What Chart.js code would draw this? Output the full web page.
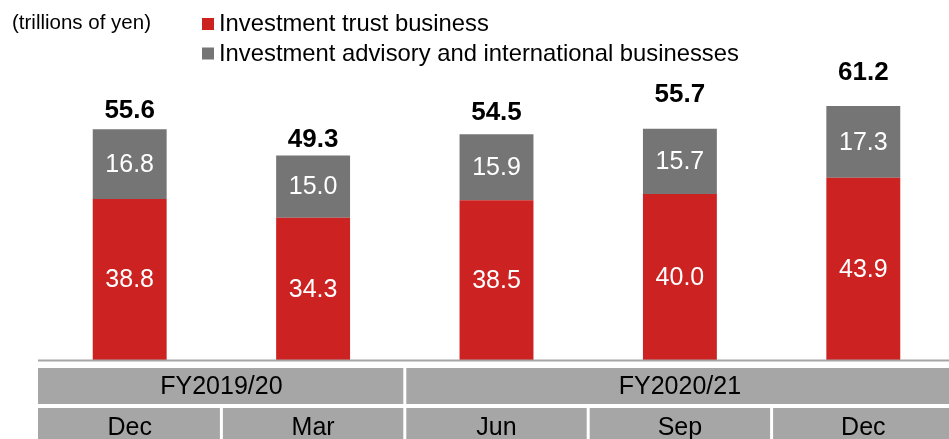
<!DOCTYPE html>
<html>
<head>
<meta charset="utf-8">
<script src="https://cdn.jsdelivr.net/npm/chart.js@4"></script>
<style>
  html, body { margin: 0; padding: 0; background: #fff; overflow: hidden; }
  #wrap { width: 960px; height: 439px; position: relative; }
</style>
</head>
<body>
<div id="wrap"><canvas id="aum" width="960" height="439"></canvas></div>
<script>
// data
const months = ['Dec', 'Mar', 'Jun', 'Sep', 'Dec']
const fiscalYears = ['FY2019/20', 'FY2020/21']
const fiscalSpans = [2, 3]
const trustBiz = [38.8, 34.3, 38.5, 40.0, 43.9]
const advisoryBiz = [16.8, 15.0, 15.9, 15.7, 17.3]
const totals = [55.6, 49.3, 54.5, 55.7, 61.2]
const unitLabel = '(trillions of yen)'

const RED = '#cc2222'
const GRAY = '#757575'
const CELL = '#a6a6a6'
const FONT = "'Liberation Sans', Arial, sans-serif"
// the total labels sit at uneven heights above the bars in the original
const totalLift = [18.5, 15.5, 21, 34, 33]

// value labels inside segments + totals on top
const labelPlugin = {
  id: 'labels',
  afterDatasetsDraw(chart) {
    const ctx = chart.ctx
    ctx.save()
    ctx.textAlign = 'center'
    ctx.textBaseline = 'middle'
    chart.data.datasets.forEach((ds, di) => {
      const meta = chart.getDatasetMeta(di)
      meta.data.forEach((bar, i) => {
        ctx.fillStyle = '#fff'
        ctx.font = '25px ' + FONT
        ctx.fillText(ds.data[i].toFixed(1), bar.x, (bar.y + bar.base) / 2 + 1)
      })
    })
    const top = chart.getDatasetMeta(chart.data.datasets.length - 1)
    top.data.forEach((bar, i) => {
      ctx.fillStyle = '#000'
      ctx.font = 'bold 26px ' + FONT
      ctx.fillText(totals[i].toFixed(1), bar.x, bar.y - totalLift[i])
    })
    ctx.restore()
  }
}

// legend, unit text, baseline and the period table under the bars
const framePlugin = {
  id: 'frame',
  afterDraw(chart) {
    const ctx = chart.ctx
    const area = chart.chartArea
    const xs = chart.scales.x
    const step = (area.right - area.left) / months.length
    ctx.save()

    ctx.fillStyle = '#000'
    ctx.textBaseline = 'middle'
    ctx.textAlign = 'left'
    ctx.font = '20.5px ' + FONT
    ctx.fillText(unitLabel, 12, 23)

    ctx.font = '23.8px ' + FONT
    chart.data.datasets.forEach((ds, i) => {
      const y = 18 + i * 29.5
      ctx.fillStyle = ds.backgroundColor
      ctx.fillRect(202, y, 12, 12)
      ctx.fillStyle = '#000'
      ctx.fillText(ds.label, 219, y + 6.5)
    })

    // baseline
    ctx.strokeStyle = CELL
    ctx.lineWidth = 2
    ctx.beginPath()
    ctx.moveTo(area.left, area.bottom + 0.5)
    ctx.lineTo(chart.width, area.bottom + 0.5)
    ctx.stroke()

    // row 1: fiscal years
    ctx.textAlign = 'center'
    ctx.font = '25px ' + FONT
    let start = 0
    fiscalYears.forEach((fy, k) => {
      const x0 = xs.getPixelForValue(start) - step / 2
      const x1 = xs.getPixelForValue(start + fiscalSpans[k] - 1) + step / 2
      const l = k === 0 ? x0 : x0 + 1.5
      ctx.fillStyle = CELL
      ctx.fillRect(l, 368, x1 - 1.5 - l, 36)
      ctx.fillStyle = '#000'
      ctx.fillText(fy, (x0 + x1) / 2, 387)
      start += fiscalSpans[k]
    })

    // row 2: months
    months.forEach((m, i) => {
      const x0 = xs.getPixelForValue(i) - step / 2
      const x1 = x0 + step
      const l = i === 0 ? x0 : x0 + 1.5
      ctx.fillStyle = CELL
      ctx.fillRect(l, 408, x1 - 1.5 - l, 40)
      ctx.fillStyle = '#000'
      ctx.fillText(m, (x0 + x1) / 2, 428)
    })
    ctx.restore()
  }
}

const ctx = document.getElementById('aum').getContext('2d')
const myChart = new Chart(ctx, {
  type: 'bar',
  data: {
    labels: months,
    datasets: [{
      label: 'Investment trust business',
      data: trustBiz,
      backgroundColor: RED,
      borderWidth: 0
    }, {
      label: 'Investment advisory and international businesses',
      data: advisoryBiz,
      backgroundColor: GRAY,
      borderWidth: 0
    }]
  },
  options: {
    responsive: false,
    animation: false,
    layout: { padding: { left: 38, right: 5, top: 69.5, bottom: 79 } },
    datasets: { bar: { categoryPercentage: 1, barPercentage: 0.403 } },
    scales: {
      x: { stacked: true, display: false },
      y: { stacked: true, display: false, min: 0, max: 70 }
    },
    plugins: { legend: { display: false }, tooltip: { enabled: false } }
  },
  plugins: [labelPlugin, framePlugin]
})
</script>
</body>
</html>
